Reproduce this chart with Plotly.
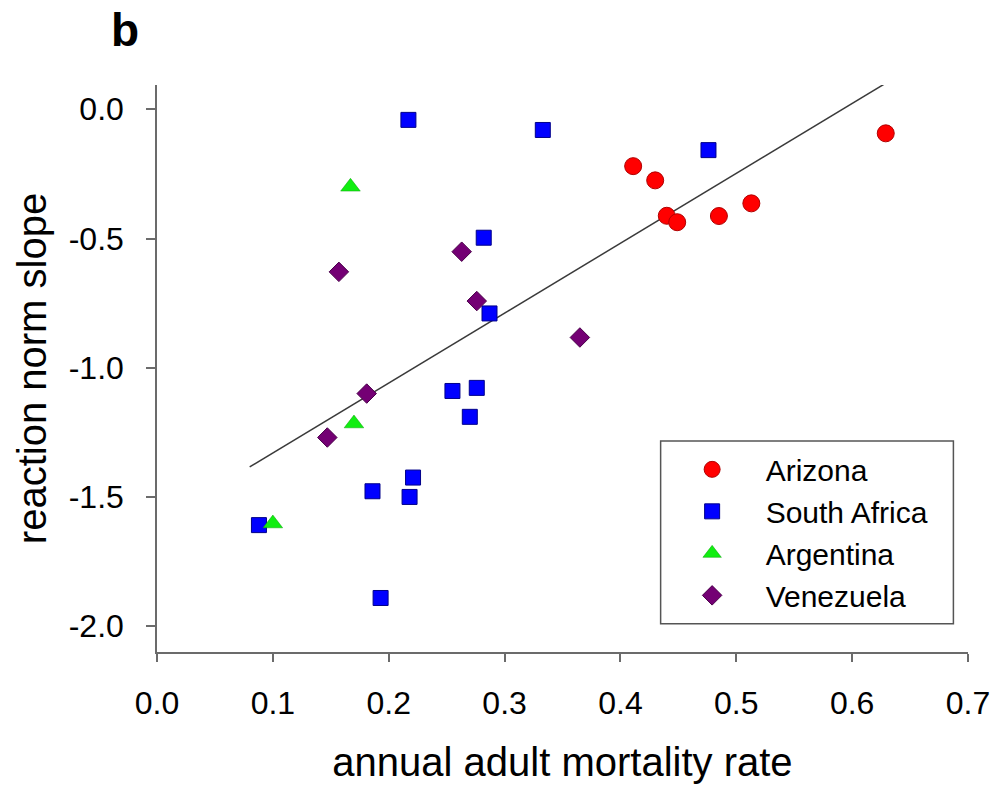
import plotly.graph_objects as go

# Annual adult mortality rate (x) vs reaction norm slope (y), by population
arizona_x = [0.411, 0.430, 0.440, 0.449, 0.485, 0.513, 0.629]
arizona_y = [-0.220, -0.275, -0.412, -0.437, -0.413, -0.364, -0.093]

south_africa_x = [0.217, 0.333, 0.476, 0.282, 0.287, 0.255, 0.276, 0.270,
                  0.221, 0.186, 0.218, 0.088, 0.193]
south_africa_y = [-0.041, -0.080, -0.158, -0.497, -0.790, -1.090, -1.078, -1.190,
                  -1.425, -1.478, -1.500, -1.609, -1.891]

argentina_x = [0.167, 0.170, 0.100]
argentina_y = [-0.300, -1.216, -1.603]

venezuela_x = [0.263, 0.157, 0.276, 0.365, 0.181, 0.147]
venezuela_y = [-0.551, -0.629, -0.742, -0.883, -1.100, -1.270]

# Fitted regression line endpoints
fit_x = [0.080, 0.629]
fit_y = [-1.384, 0.101]

x_ticks = [0.0, 0.1, 0.2, 0.3, 0.4, 0.5, 0.6, 0.7]
y_ticks = [0.0, -0.5, -1.0, -1.5, -2.0]

FONT = "Liberation Sans, Arial, sans-serif"

fig = go.Figure()

fig.add_trace(go.Scatter(
    x=fit_x, y=fit_y, mode="lines",
    line=dict(color="#3a3a3a", width=1.5),
    showlegend=False, hoverinfo="skip",
))

fig.add_trace(go.Scatter(
    x=arizona_x, y=arizona_y, mode="markers", name="Arizona",
    marker=dict(symbol="circle", size=17, color="#ff0000",
                line=dict(color="#b00000", width=1)),
))
fig.add_trace(go.Scatter(
    x=south_africa_x, y=south_africa_y, mode="markers", name="South Africa",
    marker=dict(symbol="square", size=15, color="#0000ff",
                line=dict(color="#00008a", width=1)),
))
fig.add_trace(go.Scatter(
    x=argentina_x, y=argentina_y, mode="markers", name="Argentina",
    marker=dict(symbol="triangle-up", size=17, color="#11ee11",
                line=dict(color="#0aa00a", width=0.5)),
))
fig.add_trace(go.Scatter(
    x=venezuela_x, y=venezuela_y, mode="markers", name="Venezuela",
    marker=dict(symbol="diamond", size=15, color="#740074",
                line=dict(color="#4a004a", width=1)),
))

axis_color = "#6b6b6b"

fig.update_layout(
    width=996, height=787,
    margin=dict(l=157, r=28, t=85, b=135, autoexpand=False),
    paper_bgcolor="white", plot_bgcolor="white",
    font=dict(family=FONT, color="#000000", size=32),
    xaxis=dict(
        range=[0, 0.7], tickvals=x_ticks,
        ticktext=[f"{v:.1f}" for v in x_ticks],
        showgrid=False, zeroline=False,
        showline=True, linecolor=axis_color, linewidth=1.5,
        ticks="outside", ticklen=8, tickwidth=1.5, tickcolor=axis_color,
        tickfont=dict(size=32, family=FONT),
        ticklabelstandoff=14,
        title=dict(text="annual adult mortality rate",
                   font=dict(size=40, family=FONT), standoff=28),
    ),
    yaxis=dict(
        range=[-2.1, 0.094], tickvals=y_ticks,
        ticktext=[f"{v:.1f}" for v in y_ticks],
        showgrid=False, zeroline=False,
        showline=True, linecolor=axis_color, linewidth=1.5,
        ticks="outside", ticklen=9, tickwidth=1.5, tickcolor=axis_color,
        tickfont=dict(size=32, family=FONT),
        ticklabelstandoff=16,
        title=dict(text="reaction norm slope",
                   font=dict(size=40, family=FONT), standoff=10),
    ),
    legend=dict(
        x=0.621, y=0.368, xanchor="left", yanchor="top",
        bgcolor="rgba(0,0,0,0)", borderwidth=0,
        font=dict(size=30, family=FONT),
        indentation=-2, itemwidth=97,
        tracegroupgap=0,
    ),
    shapes=[dict(
        type="rect", xref="paper", yref="paper",
        x0=0.621, x1=0.982, y0=0.050, y1=0.372,
        line=dict(color="#555555", width=1.5), fillcolor="rgba(0,0,0,0)",
        layer="below",
    )],
    annotations=[dict(
        text="<b>b</b>", x=-0.039, y=1.097, xref="paper", yref="paper",
        xanchor="center", yanchor="middle", showarrow=False,
        font=dict(size=46, family=FONT, color="#000000"),
    )],
)

fig.write_html("out.html")
